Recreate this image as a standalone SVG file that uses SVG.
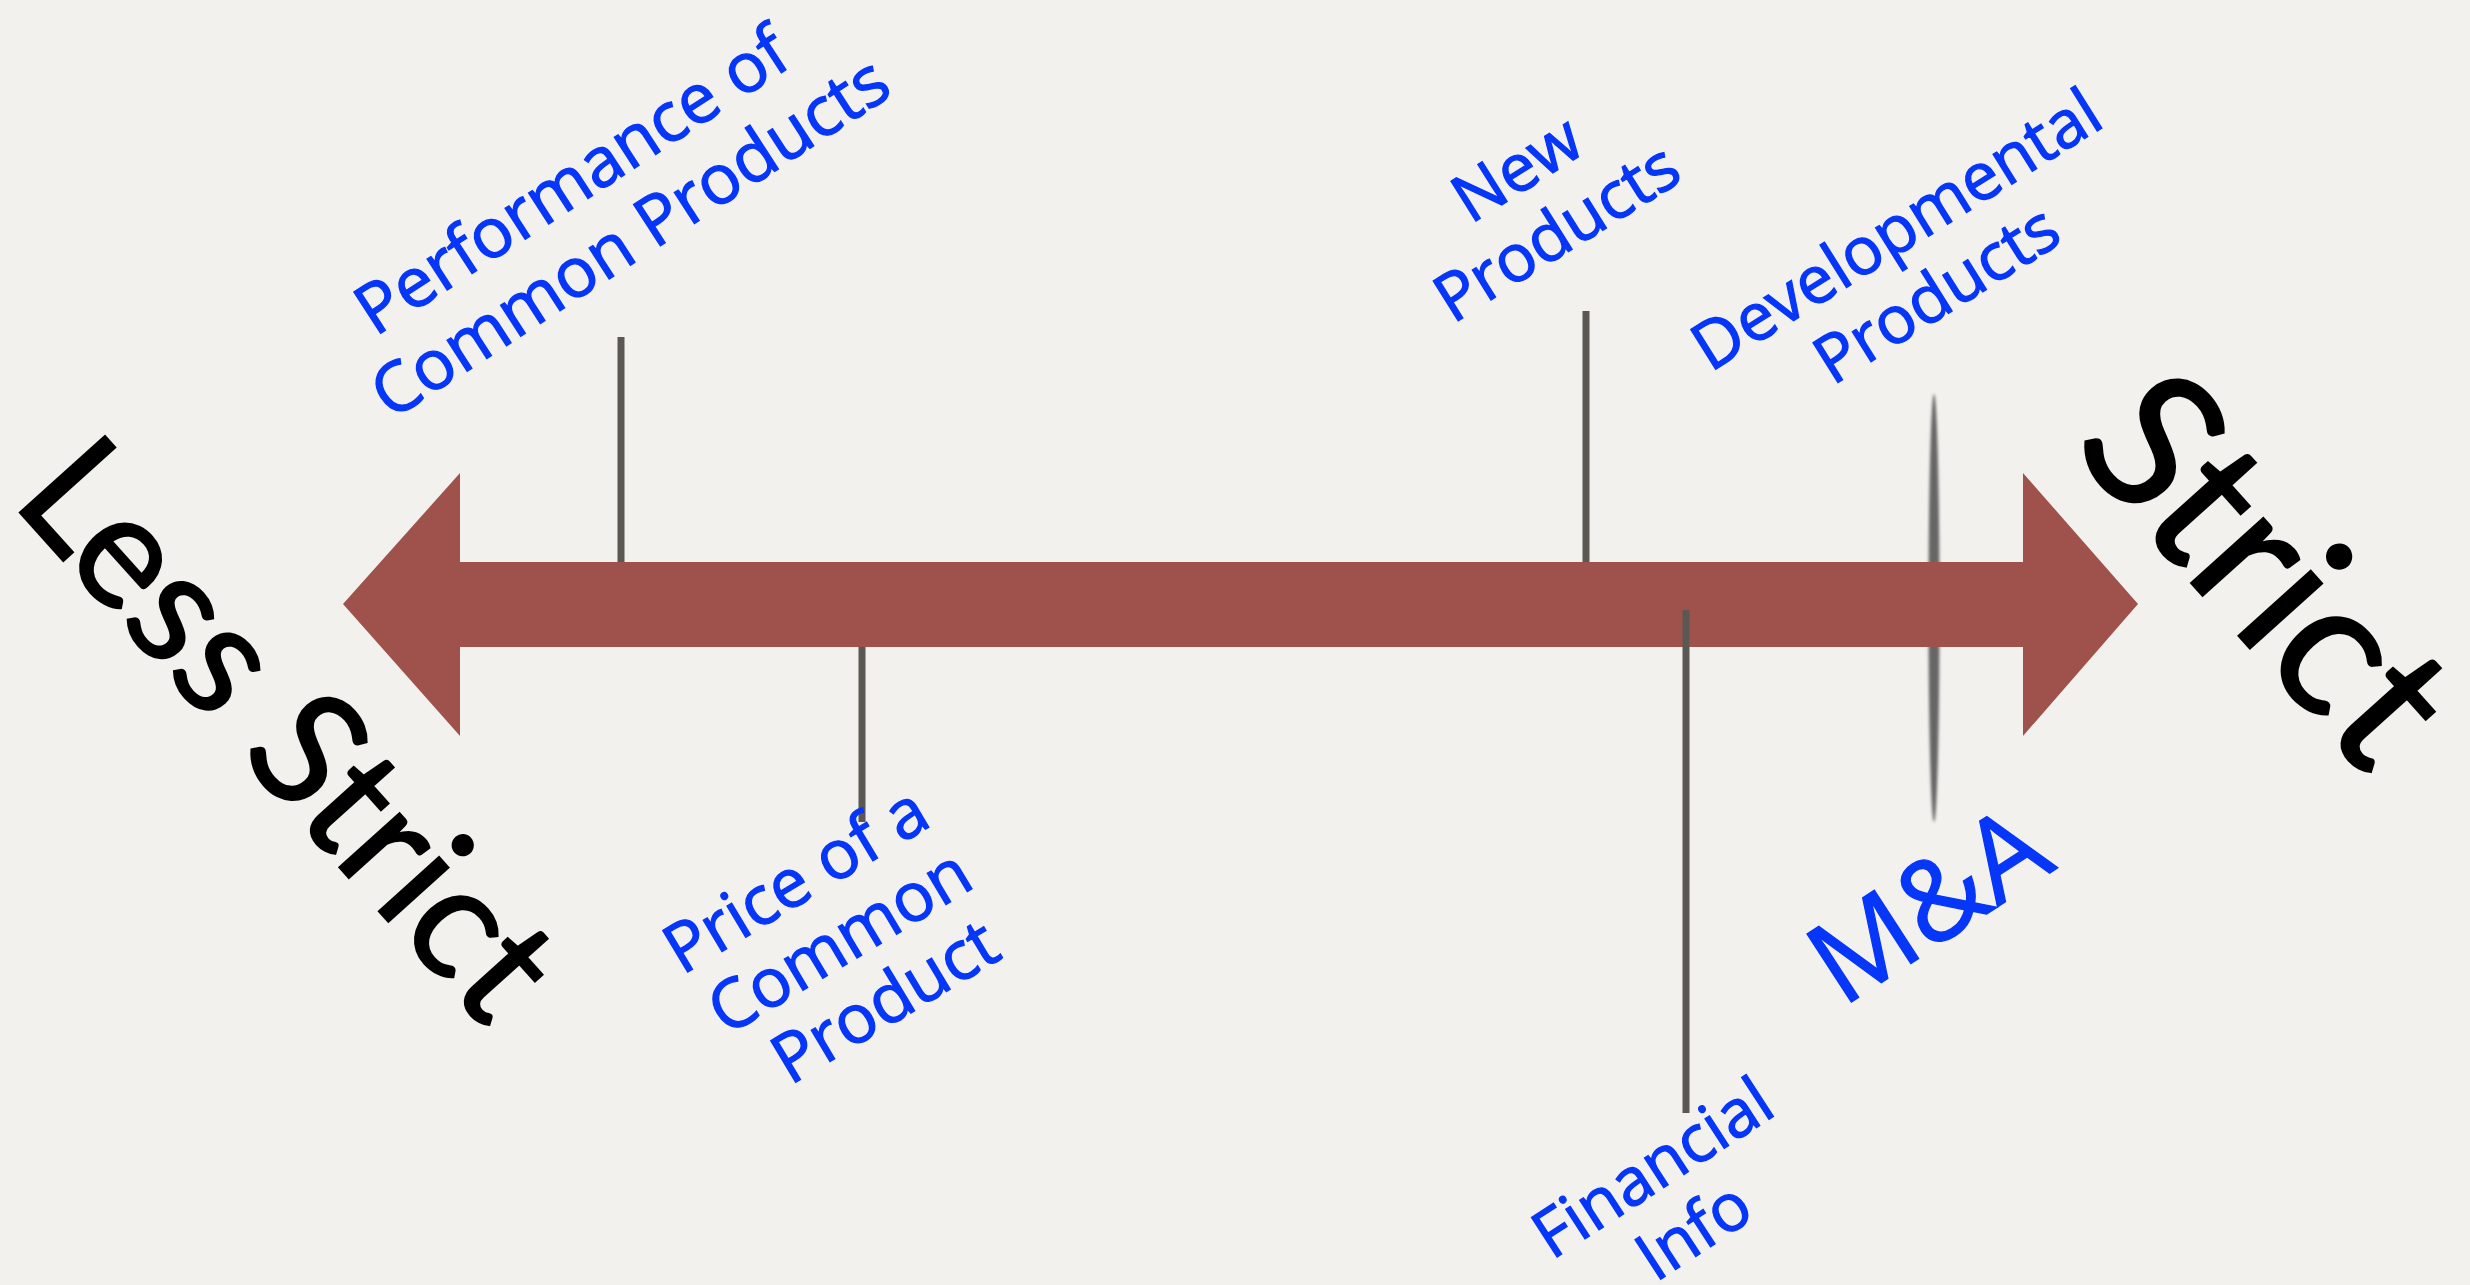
<svg xmlns="http://www.w3.org/2000/svg" width="2470" height="1285" viewBox="0 0 2470 1285">
  <style>
    .lbl { font-family: "Open Sans", "Noto Sans", sans-serif; font-size: 66px; fill: #0636f8; stroke: #0636f8; stroke-width: 1.3; text-anchor: middle; }
    .big { font-family: Lato, "Open Sans", sans-serif; fill: #000000; stroke: #000000; stroke-width: 2; text-anchor: middle; }
    .tick { stroke: #5b5853; stroke-width: 7; fill: none; }
  </style>
  <defs>
    <filter id="blur" x="-50%" y="-5%" width="200%" height="110%">
      <feGaussianBlur stdDeviation="1.6"/>
    </filter>
  </defs>
  <rect x="0" y="0" width="2470" height="1285" fill="#f2f1ed"/>

  <g id="connectors">
    <line class="tick" x1="621" y1="337" x2="621" y2="563"/>
    <line class="tick" x1="862" y1="646" x2="862" y2="822"/>
    <line class="tick" x1="1586" y1="311" x2="1586" y2="563"/>
    <ellipse cx="1934" cy="608" rx="5.5" ry="214" fill="#666666" filter="url(#blur)"/>
  </g>

  <g id="axis-arrow">
    <polygon points="343,604 460,473 460,562 2023,562 2023,473 2138,604 2023,736 2023,647 460,647 460,736" fill="#9f524c"/>
  </g>

  <g id="connectors-front">
    <line class="tick" x1="1686" y1="610" x2="1686" y2="1113"/>
  </g>

  <g id="node-performance">
    <text class="lbl" style="font-size:69px" transform="translate(578,205) rotate(-33)"><tspan x="8" y="0">Performance of</tspan><tspan x="26" y="79">Common Products</tspan></text>
  </g>
  <g id="node-price">
    <text class="lbl" style="font-size:68px" transform="translate(806,901) rotate(-31)"><tspan x="2" y="0">Price of a</tspan><tspan x="8" y="75">Common</tspan><tspan x="16" y="150">Product</tspan></text>
  </g>
  <g id="node-new-products">
    <text class="lbl" transform="translate(1529,188) rotate(-32)"><tspan x="0" y="0">New</tspan><tspan x="0" y="75">Products</tspan></text>
  </g>
  <g id="node-financial">
    <text class="lbl" transform="translate(1665,1187) rotate(-33)"><tspan x="0" y="0">Financial</tspan><tspan x="0" y="75">Info</tspan></text>
  </g>
  <g id="node-developmental">
    <text class="lbl" transform="translate(1905,251) rotate(-32)"><tspan x="4" y="0">Developmental</tspan><tspan x="4" y="76">Products</tspan></text>
  </g>
  <g id="node-ma">
    <text class="lbl" style="font-size:114px" transform="translate(1950,938) rotate(-33)">M&amp;A</text>
  </g>
  <g id="node-less-strict">
    <text class="big" style="font-size:160px" transform="translate(248,766) rotate(48)">Less Strict</text>
  </g>
  <g id="node-strict">
    <text class="big" style="font-size:192px" transform="translate(2218,613) rotate(48)">Strict</text>
  </g>
</svg>
